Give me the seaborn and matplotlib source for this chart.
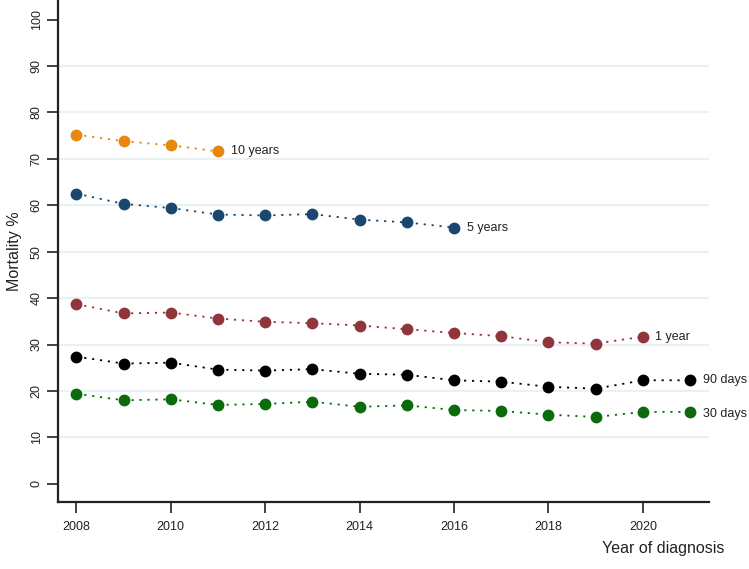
import matplotlib
matplotlib.use("Agg")
import matplotlib.pyplot as plt
import seaborn as sns
import pandas as pd

# значения
years = list(range(2008, 2022))
mort_10y = [75.2, 73.8, 72.9, 71.6]
mort_5y = [62.5, 60.3, 59.4, 58.0, 57.8, 58.1, 56.9, 56.3, 55.2]
mort_1y = [38.7, 36.7, 36.9, 35.6, 34.9, 34.6, 34.1, 33.3, 32.5, 31.8, 30.5, 30.2, 31.7]
mort_90d = [27.4, 25.9, 26.1, 24.6, 24.4, 24.7, 23.7, 23.5, 22.3, 22.0, 20.9, 20.5, 22.3, 22.3]
mort_30d = [19.4, 18.0, 18.2, 17.0, 17.2, 17.7, 16.6, 16.9, 15.9, 15.7, 14.9, 14.4, 15.5, 15.5]

series_names = ["10 years", "5 years", "1 year", "90 days", "30 days"]
series_values = [mort_10y, mort_5y, mort_1y, mort_90d, mort_30d]
colors = ["#e8870e", "#1a476f", "#90353b", "#000000", "#0b6b0b"]
label_dy = [0, 0, 0, 0, -0.4]

x_ticks = [2008, 2010, 2012, 2014, 2016, 2018, 2020]
y_ticks = list(range(0, 101, 10))

sns.set_style("ticks")
plt.rcParams["font.family"] = ["Liberation Sans", "DejaVu Sans"]

fig = plt.figure(figsize=(7.49, 5.69), dpi=100)
ax = fig.add_axes([0.0774, 0.1178, 0.8692, 0.8822])

for g in range(10, 100, 10):
    ax.axhline(g, color="#eaf1f5", lw=1.6, zorder=0)

for name, vals, col, dy in zip(series_names, series_values, colors, label_dy):
    df = pd.DataFrame({"year": years[:len(vals)], "mort": vals})
    sns.lineplot(data=df, x="year", y="mort", ax=ax, color=col,
                 linestyle=(0, (1.2, 3.2)), lw=1.3, marker="o", markersize=8.5,
                 markeredgewidth=0, zorder=3)
    ax.annotate(name, (df["year"].iloc[-1], df["mort"].iloc[-1] + dy),
                xytext=(9, 0), textcoords="offset points", va="center",
                ha="left", fontsize=9, color="#222222")

ax.set_xlim(2007.61, 2021.4)
ax.set_ylim(-3.9, 104.2)
ax.set_xticks(x_ticks)
ax.set_yticks(y_ticks)
ax.tick_params(axis="both", direction="out", length=8, width=1.2,
               color="#222222", labelsize=9, labelcolor="#222222",
               bottom=True, left=True)
ax.tick_params(axis="x", pad=6)
ax.tick_params(axis="y", pad=3)
for lab in ax.get_yticklabels():
    lab.set_rotation(90)
    lab.set_va("center")

for s in ["top", "right"]:
    ax.spines[s].set_visible(False)
for s in ["left", "bottom"]:
    ax.spines[s].set_linewidth(1.6)
    ax.spines[s].set_color("#222222")

ax.set_xlabel("")
ax.set_ylabel("Mortality %", fontsize=11.5, color="#222222", labelpad=6)
fig.text(0.967, 0.022, "Year of diagnosis", ha="right", va="bottom",
         fontsize=11.5, color="#222222")

fig.savefig("out.png", dpi=100)
